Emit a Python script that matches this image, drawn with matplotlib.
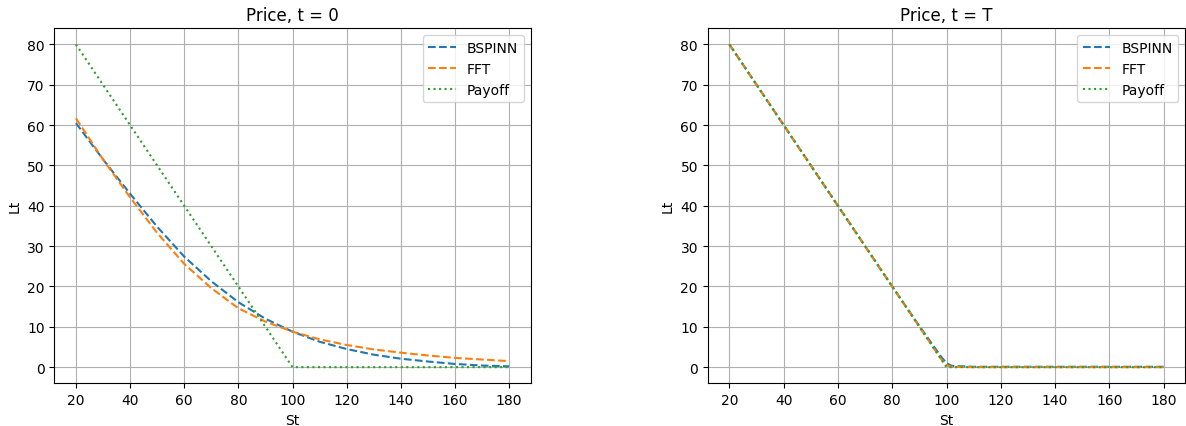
import matplotlib
matplotlib.use("Agg")
import matplotlib.pyplot as plt
import numpy as np

# Left panel (t = 0)
s0 = [20, 30, 40, 50, 60, 70, 80, 90, 100, 110, 120, 130, 140, 150, 160, 170, 180]
bspinn0 = [60.5, 51.5, 43.0, 34.8, 27.4, 21.3, 16.1, 12.0, 8.8, 6.3, 4.5, 3.1, 2.1, 1.4, 0.8, 0.4, 0.2]
fft0 = [61.7, 51.5, 42.1, 33.3, 25.6, 19.6, 14.6, 11.3, 8.8, 6.9, 5.5, 4.4, 3.6, 2.9, 2.3, 1.9, 1.5]

# Payoff
s_pay = [20, 30, 40, 50, 60, 70, 80, 90, 100, 101, 110, 120, 130, 140, 150, 160, 170, 180]
payoff = [80, 70, 60, 50, 40, 30, 20, 10, 0, 0, 0, 0, 0, 0, 0, 0, 0, 0]

# Right panel (t = T)
sT = [20, 30, 40, 50, 60, 70, 80, 90, 98, 100, 102, 110, 120, 130, 140, 150, 160, 170, 180]
bspinnT = [80.0, 70.0, 60.0, 50.0, 40.0, 30.0, 20.0, 10.2, 2.6, 1.0, 0.3, 0.1, 0.1, 0.1, 0.1, 0.1, 0.1, 0.1, 0.1]
fftT = [80.0, 70.0, 60.0, 50.0, 40.0, 30.0, 20.0, 10.0, 2.0, 0.5, 0.1, 0.0, 0.0, 0.0, 0.0, 0.0, 0.0, 0.0, 0.0]

fig = plt.figure(figsize=(11.86, 4.27), dpi=100)
W, H = 1186, 427
ax1 = fig.add_axes([54.3 / W, (H - 384.3) / H, 476.4 / W, 355.0 / H])
ax2 = fig.add_axes([707.7 / W, (H - 384.3) / H, 477.6 / W, 355.0 / H])

panels = [
    (ax1, s0, bspinn0, fft0, "Price, t = 0"),
    (ax2, sT, bspinnT, fftT, "Price, t = T"),
]
for ax, s, b, f, title in panels:
    ax.plot(s, b, linestyle="--", color="#1f77b4", label="BSPINN")
    ax.plot(s, f, linestyle="--", color="#ff7f0e", label="FFT")
    ax.plot(s_pay, payoff, linestyle=":", color="#2ca02c", label="Payoff")
    ax.set_title(title, fontsize=12)
    ax.set_xlabel("St")
    ax.set_ylabel("Lt")
    ax.set_xticks([20, 40, 60, 80, 100, 120, 140, 160, 180])
    ax.set_yticks([0, 10, 20, 30, 40, 50, 60, 70, 80])
    ax.grid(True)
    ax.legend(loc="upper right")

fig.savefig("out.png", dpi=100)
